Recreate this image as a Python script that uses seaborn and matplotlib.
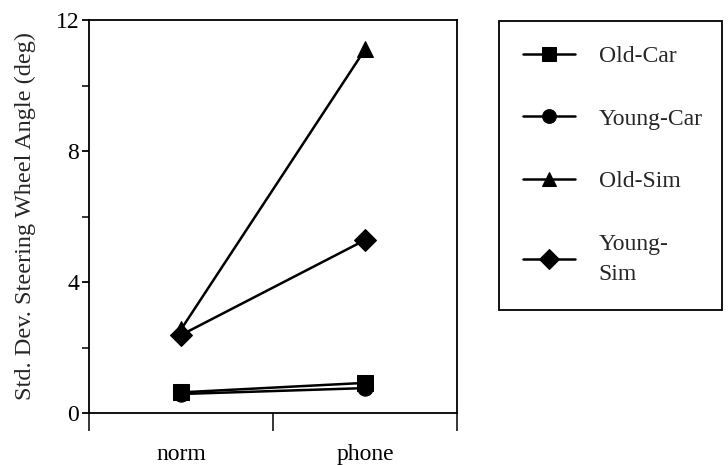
import pandas as pd
import matplotlib.pyplot as plt
import seaborn as sns
from matplotlib.patches import Rectangle

conditions = ['norm', 'phone']
groups = ['Old-Car', 'Young-Car', 'Old-Sim', 'Young-Sim']
old_car = [0.63, 0.92]
young_car = [0.58, 0.76]
old_sim = [2.55, 11.1]
young_sim = [2.38, 5.28]
legend_labels = ['Old-Car', 'Young-Car', 'Old-Sim', 'Young-\nSim']

rows = []
for g, vals in zip(groups, [old_car, young_car, old_sim, young_sim]):
    for c, v in zip(conditions, vals):
        rows.append({'group': g, 'condition': c, 'value': v})
df = pd.DataFrame(rows)

sns.set_style('ticks')
plt.rcParams['font.family'] = ['Liberation Serif', 'DejaVu Serif']

fig = plt.figure(figsize=(7.28, 4.65), dpi=100)
ax = fig.add_axes([89 / 728, 52 / 465, 368 / 728, 393 / 465])

sns.lineplot(data=df, x='condition', y='value', hue='group', style='group',
             hue_order=groups, style_order=groups,
             palette={g: 'black' for g in groups},
             markers={'Old-Car': 's', 'Young-Car': 'o', 'Old-Sim': '^', 'Young-Sim': 'D'},
             dashes=False, markersize=11, linewidth=1.8, markeredgecolor='black',
             ax=ax, legend='full')

handles, _ = ax.get_legend_handles_labels()
ax.get_legend().remove()

ax.set_xlim(-0.5, 1.5)
ax.set_ylim(0, 12)
ax.set_yticks([0, 4, 8, 12])
ax.set_yticks([2, 6, 10], minor=True)
ax.set_xticks([0, 1])
ax.set_xticklabels(conditions)
ax.set_xticks([-0.5, 0.5, 1.5], minor=True)
ax.tick_params(axis='x', which='major', length=0, pad=22, labelsize=17)
ax.tick_params(axis='x', which='minor', length=13, width=1.3, direction='out')
ax.tick_params(axis='y', which='both', length=5, width=1.3, direction='out', labelsize=17, pad=2)
ax.set_xlabel('')
ax.set_ylabel('Std. Dev. Steering Wheel Angle (deg)', fontsize=17.5, labelpad=14)
for s in ax.spines.values():
    s.set_linewidth(1.3)
    s.set_color('black')
ax.tick_params(colors='black')

fig.patches.append(Rectangle((499 / 728, 1 - 310 / 465), 223 / 728, 289 / 465,
                             transform=fig.transFigure, fill=False,
                             edgecolor='black', linewidth=1.3))
leg = fig.legend(handles, legend_labels, loc='upper left',
                 bbox_to_anchor=(502 / 728, 1 - 24 / 465), frameon=False,
                 fontsize=17, handlelength=2.2, handletextpad=1.0, labelspacing=1.75,
                 markerscale=0.9)
leg.get_texts()[-1].set_linespacing(1.6)

fig.savefig('out.png', dpi=100)
